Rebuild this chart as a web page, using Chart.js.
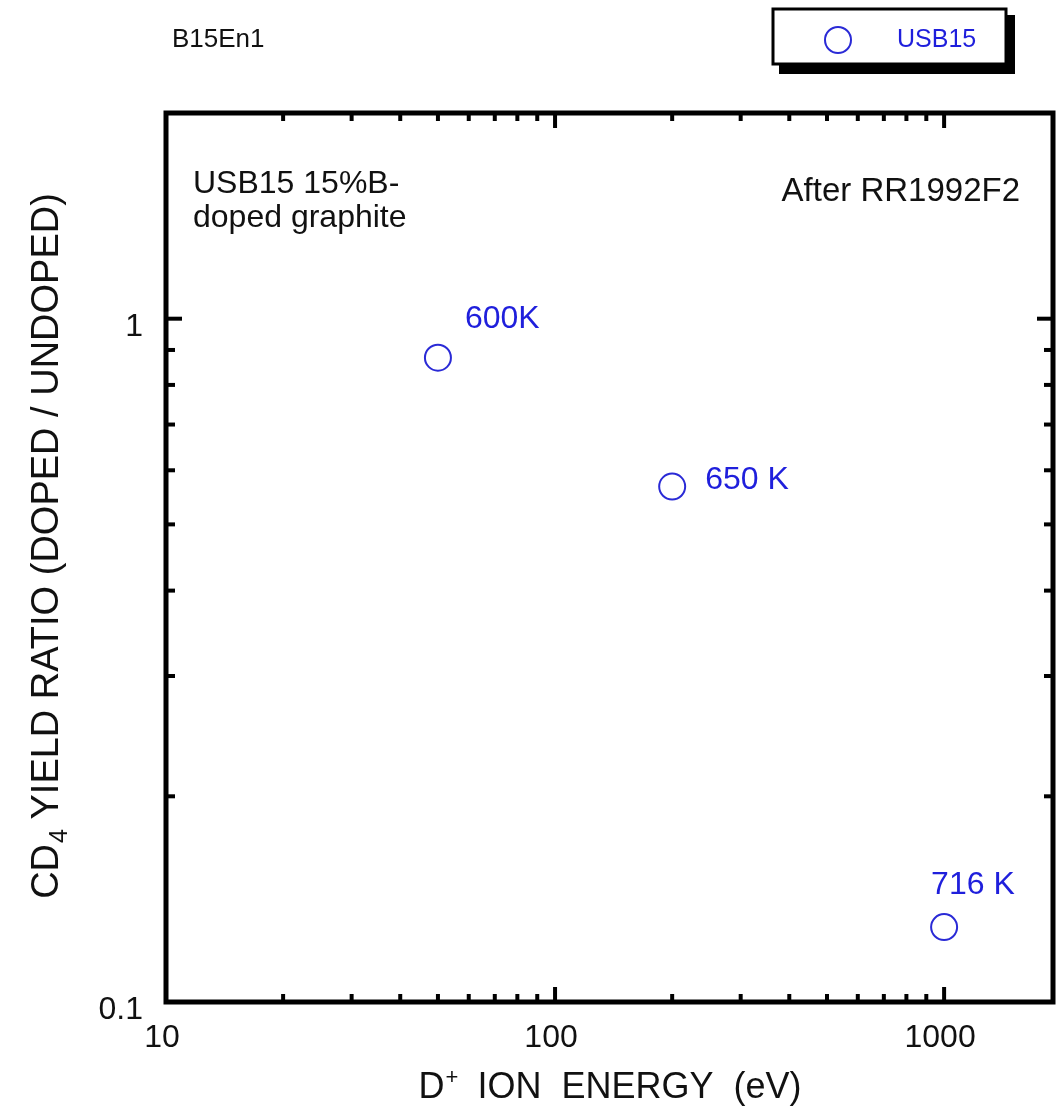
<!DOCTYPE html>
<html>
<head>
<meta charset="utf-8">
<title>B15En1</title>
<script src="https://cdn.jsdelivr.net/npm/chart.js@4/dist/chart.umd.min.js"></script>
<style>
  html, body { margin: 0; padding: 0; background: #fff; }
  #wrap { width: 1057px; height: 1112px; }
</style>
</head>
<body>
<div id="wrap"><canvas id="chart" width="1057" height="1112"></canvas></div>
<script>
// D+ ion energy (eV) vs CD4 yield ratio, USB15 sample
var energies = [50, 200, 1000];
var ratios = [0.877, 0.568, 0.1287];
var temps = ['600K', '650 K', '716 K'];

var xTicks = [10, 100, 1000];
var yTicks = [0.1, 1];

var FONT = "'Liberation Sans', Arial, sans-serif";
var BLUE = '#2a2ad6';
var TEXT_BLUE = '#1f1fdc';

// minor tick values for the log decades
var xMinor = [];
var yMinor = [];
[10, 100, 1000].forEach(function (d) {
  for (var k = 2; k <= 9; k++) xMinor.push(k * d);
});
for (var k = 2; k <= 9; k++) yMinor.push(k * 0.1);

// offsets of each temperature label from its point
var labelShift = [[27, -38], [33, -6], [-13, -42]];

function line(ctx, x0, y0, x1, y1) {
  ctx.beginPath();
  ctx.moveTo(x0, y0);
  ctx.lineTo(x1, y1);
  ctx.stroke();
}

// no extra label padding, so the plot box sits where the layout puts it
function noPad(scale) {
  scale.paddingLeft = 0;
  scale.paddingRight = 0;
  scale.paddingTop = 0;
  scale.paddingBottom = 0;
}

var framePlugin = {
  id: 'frame',
  afterDatasetsDraw: function (chart) {
    var ctx = chart.ctx;
    var a = chart.chartArea;
    var xs = chart.scales.x;
    var ys = chart.scales.y;
    ctx.save();
    ctx.strokeStyle = '#000';
    ctx.lineWidth = 4;

    // inward ticks on all four sides
    xMinor.forEach(function (v) {
      if (v > xs.max) return;
      var px = xs.getPixelForValue(v);
      line(ctx, px, a.bottom, px, a.bottom - 8);
      line(ctx, px, a.top, px, a.top + 8);
    });
    xTicks.forEach(function (v) {
      var px = xs.getPixelForValue(v);
      line(ctx, px, a.bottom, px, a.bottom - 15);
      line(ctx, px, a.top, px, a.top + 15);
    });
    yMinor.forEach(function (v) {
      var py = ys.getPixelForValue(v);
      line(ctx, a.left, py, a.left + 9, py);
      line(ctx, a.right, py, a.right - 9, py);
    });
    yTicks.forEach(function (v) {
      var py = ys.getPixelForValue(v);
      line(ctx, a.left, py, a.left + 16, py);
      line(ctx, a.right, py, a.right - 16, py);
    });

    // plot frame
    ctx.lineWidth = 5;
    ctx.strokeRect(a.left, a.top, a.right - a.left, a.bottom - a.top);

    // temperature labels next to the points
    var meta = chart.getDatasetMeta(0);
    ctx.fillStyle = TEXT_BLUE;
    ctx.font = '32px ' + FONT;
    ctx.textAlign = 'left';
    ctx.textBaseline = 'middle';
    meta.data.forEach(function (pt, i) {
      ctx.fillText(temps[i], pt.x + labelShift[i][0], pt.y + labelShift[i][1]);
    });

    // notes inside the frame
    ctx.fillStyle = '#111';
    ctx.font = '32px ' + FONT;
    ctx.fillText('USB15 15%B-', 193, 184);
    ctx.fillText('doped graphite', 193, 218);
    ctx.textAlign = 'right';
    ctx.font = '33px ' + FONT;
    ctx.fillText('After RR1992F2', 1020, 192);

    // sheet name
    ctx.textAlign = 'left';
    ctx.font = '26px ' + FONT;
    ctx.fillText('B15En1', 172, 40);

    // legend box with drop shadow
    var bx = 773, by = 9, bw = 233, bh = 55;
    ctx.fillStyle = '#000';
    ctx.fillRect(bx + 6, by + 6, bw + 3, bh + 4);
    ctx.fillStyle = '#fff';
    ctx.fillRect(bx, by, bw, bh);
    ctx.lineWidth = 3;
    ctx.strokeRect(bx, by, bw, bh);
    var ds = chart.data.datasets[0];
    ctx.strokeStyle = ds.borderColor;
    ctx.lineWidth = ds.borderWidth;
    ctx.beginPath();
    ctx.arc(838, 40, ds.pointRadius, 0, Math.PI * 2);
    ctx.stroke();
    ctx.fillStyle = TEXT_BLUE;
    ctx.font = '25px ' + FONT;
    ctx.fillText(ds.label, 897, 40);

    // x axis title: D+ ION ENERGY (eV)
    ctx.fillStyle = '#111';
    ctx.textBaseline = 'alphabetic';
    var big = '36px ' + FONT, small = '22px ' + FONT;
    var rest = '  ION  ENERGY  (eV)';
    ctx.font = big;
    var wD = ctx.measureText('D').width;
    var wRest = ctx.measureText(rest).width;
    ctx.font = small;
    var wPlus = ctx.measureText('+').width;
    var x0 = 610 - (wD + wPlus + wRest) / 2;
    var base = 1098;
    ctx.font = big;
    ctx.fillText('D', x0, base);
    ctx.font = small;
    ctx.fillText('+', x0 + wD + 1, base - 14);
    ctx.font = big;
    ctx.fillText(rest, x0 + wD + wPlus, base);

    // y axis title: CD4 YIELD RATIO (DOPED / UNDOPED)
    ctx.save();
    ctx.translate(58, 546);
    ctx.rotate(-Math.PI / 2);
    var ybig = '38px ' + FONT, ysmall = '25px ' + FONT;
    var yrest = ' YIELD RATIO (DOPED / UNDOPED)';
    ctx.font = ybig;
    var wCD = ctx.measureText('CD').width;
    var wYR = ctx.measureText(yrest).width;
    ctx.font = ysmall;
    var w4 = ctx.measureText('4').width;
    var s = -(wCD + w4 + wYR) / 2;
    ctx.font = ybig;
    ctx.fillText('CD', s, 0);
    ctx.font = ysmall;
    ctx.fillText('4', s + wCD + 1, 9);
    ctx.font = ybig;
    ctx.fillText(yrest, s + wCD + w4, 0);
    ctx.restore();

    ctx.restore();
  }
};

new Chart(document.getElementById('chart').getContext('2d'), {
  type: 'scatter',
  data: {
    datasets: [{
      label: 'USB15',
      data: energies.map(function (e, i) { return { x: e, y: ratios[i] }; }),
      pointStyle: 'circle',
      pointRadius: 13,
      pointHoverRadius: 13,
      borderWidth: 2,
      borderColor: BLUE,
      backgroundColor: 'rgba(0,0,0,0)',
      showLine: false
    }]
  },
  options: {
    responsive: false,
    animation: false,
    events: [],
    layout: { autoPadding: false, padding: { top: 113, right: 4, left: 0, bottom: 0 } },
    plugins: {
      legend: { display: false },
      title: { display: false },
      tooltip: { enabled: false }
    },
    scales: {
      x: {
        type: 'logarithmic',
        min: 10,
        max: 1905,
        grid: { display: false },
        border: { display: false },
        afterBuildTicks: function (scale) {
          scale.ticks = xTicks.map(function (v) { return { value: v }; });
        },
        afterFit: function (scale) { scale.height = 110; noPad(scale); },
        ticks: {
          color: '#111',
          font: { family: FONT, size: 32 },
          padding: 9,
          labelOffset: -4,
          maxRotation: 0,
          autoSkip: false,
          callback: function (v) { return String(v); }
        }
      },
      y: {
        type: 'logarithmic',
        min: 0.1,
        max: 2,
        grid: { display: false },
        border: { display: false },
        afterBuildTicks: function (scale) {
          scale.ticks = yTicks.map(function (v) { return { value: v }; });
        },
        afterFit: function (scale) { scale.width = 166; noPad(scale); },
        ticks: {
          color: '#111',
          font: { family: FONT, size: 32 },
          padding: 15,
          labelOffset: 8,
          autoSkip: false,
          callback: function (v) { return String(v); }
        }
      }
    }
  },
  plugins: [framePlugin]
});
</script>
</body>
</html>
